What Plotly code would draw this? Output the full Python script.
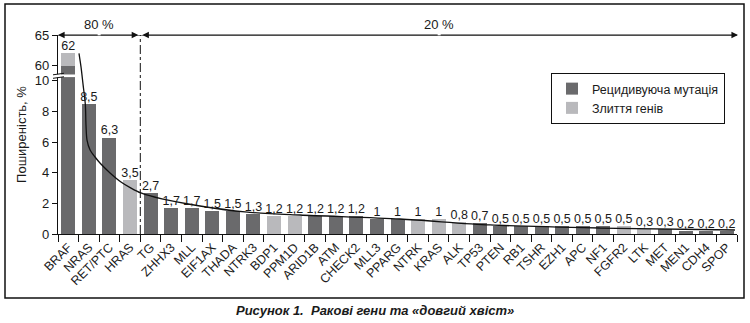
import plotly.graph_objects as go

# ---------------- data ----------------
genes = ["BRAF", "NRAS", "RET/PTC", "HRAS", "TG", "ZHHX3", "MLL", "EIF1AX", "THADA", "NTRK3",
         "BDP1", "PPM1D", "ARID1B", "ATM", "CHECK2", "MLL3", "PPARG", "NTRK", "KRAS", "ALK",
         "TP53", "PTEN", "RB1", "TSHR", "EZH1", "APC", "NF1", "FGFR2", "LTK", "MET",
         "MEN1", "CDH4", "SPOP"]
# recurrent mutation part / gene fusion part (%)
mutation = [59.7, 8.5, 6.3, 0, 2.7, 1.7, 1.7, 1.5, 1.5, 1.3,
            0, 0, 1.2, 1.2, 1.2, 1, 1, 0, 0, 0,
            0.7, 0.5, 0.5, 0.5, 0.5, 0.5, 0.5, 0, 0, 0.3,
            0.2, 0.2, 0.2]
fusion = [2.3, 0, 0, 3.5, 0, 0, 0, 0, 0, 0,
          1.2, 1.2, 0, 0, 0, 0, 0, 1, 1, 0.8,
          0, 0, 0, 0, 0, 0, 0, 0.5, 0.3, 0,
          0, 0, 0]
totals = [62, 8.5, 6.3, 3.5, 2.7, 1.7, 1.7, 1.5, 1.5, 1.3,
          1.2, 1.2, 1.2, 1.2, 1.2, 1, 1, 1, 1, 0.8,
          0.7, 0.5, 0.5, 0.5, 0.5, 0.5, 0.5, 0.5, 0.3, 0.3,
          0.2, 0.2, 0.2]
# "long tail" curve (category position, %)
tail_x = [0.52, 0.62, 0.72, 0.83, 0.86, 0.91, 1.06, 1.30, 1.54, 2.03, 2.56, 3.05, 3.53,
          4.55, 6.40, 8.59, 11.26, 16.12, 20.5, 25.84, 32.4]
tail_y = [62, 55, 9.74, 8.43, 7.12, 6.14, 5.49, 5.03, 4.64, 3.99, 3.40, 3.0, 2.68,
          2.29, 1.83, 1.44, 1.24, 0.98, 0.59, 0.39, 0.26]
ytick_vals = [0, 2, 4, 6, 8, 10, 60, 65]
group_labels = ["80 %", "20 %"]
legend_names = ["Рецидивуюча мутація", "Злиття генів"]
y_title = "Поширеність, %"
caption = "Рисунок 1.  Ракові гени та «довгий хвіст»"

# ---------------- broken-axis mapping ----------------
def ymap(v):
    if v <= 10:
        return v
    if v <= 60:
        return 10 + (v - 10) / 50.0
    return 11 + (v - 60) * 0.4

FONT = "Liberation Sans, Arial, Helvetica, sans-serif"
DARK = "#6a6a6c"
LIGHT = "#b9b9bc"
TXT = "#1a1a1a"

x = list(range(len(genes)))
mut_m = [ymap(v) for v in mutation]
fus_m = [ymap(m + f) - ymap(m) if f > 0 else 0 for m, f in zip(mutation, fusion)]

def fmt(v):
    return ("%g" % v).replace(".", ",")

fig = go.Figure()
fig.add_trace(go.Bar(x=x, y=mut_m, marker_color=DARK, width=0.68, name=legend_names[0],
                     marker_line_width=0))
fig.add_trace(go.Bar(x=x, y=fus_m, marker_color=LIGHT, width=0.68, name=legend_names[1],
                     marker_line_width=0))
fig.add_trace(go.Scatter(x=tail_x, y=[ymap(v) for v in tail_y], mode="lines",
                         line=dict(color="#111111", width=1.3, shape="spline", smoothing=0.8),
                         showlegend=False, hoverinfo="skip"))
fig.add_trace(go.Scatter(x=x, y=[ymap(v) for v in totals], mode="text",
                         text=[fmt(v) for v in totals], textposition="top center",
                         textfont=dict(family=FONT, size=12.5, color=TXT),
                         showlegend=False, hoverinfo="skip", cliponaxis=False))

# pixel geometry helpers
L, R, T, B = 58, 737, 35, 234
def px_x(p):
    return (p - L) / (R - L)
def px_y(p):
    return (B - p) / (B - T)

ymax = ymap(65)
shapes = []
# dash-dot separator
shapes.append(dict(type="line", xref="x", yref="y", x0=3.5, x1=3.5, y0=0, y1=ymax,
                   line=dict(color="#111111", width=1, dash="dashdot")))
# top horizontal line
shapes.append(dict(type="line", xref="x", yref="y", x0=-0.5, x1=32.7, y0=ymax, y1=ymax,
                   line=dict(color="#111111", width=1.2)))
# axis break: white gap across axis and BRAF bar
gap0, gap1 = 10.25, 10.42
shapes.append(dict(type="rect", xref="x", yref="y", x0=-0.45, x1=0.45, y0=gap0, y1=gap1,
                   fillcolor="white", line_width=0, layer="above"))
shapes.append(dict(type="rect", xref="paper", yref="y", x0=px_x(56.5), x1=px_x(59.5),
                   y0=gap0 - 0.02, y1=gap1 + 0.02, fillcolor="white", line_width=0, layer="above"))
for yy in (gap0 - 0.03, gap1 + 0.03):
    shapes.append(dict(type="line", xref="paper", yref="y", x0=px_x(53), x1=px_x(64),
                       y0=yy - 0.05, y1=yy + 0.05, line=dict(color="#111111", width=1),
                       layer="above"))
# outer frame
shapes.append(dict(type="rect", xref="paper", yref="paper", x0=px_x(5), x1=px_x(744),
                   y0=px_y(298), y1=px_y(4), line=dict(color="#111111", width=1.5),
                   fillcolor="rgba(0,0,0,0)", layer="below"))

annotations = []
arr = dict(showarrow=True, arrowhead=2, arrowsize=1.1, arrowwidth=1.2, arrowcolor="#111111",
           axref="x", ayref="y", xref="x", yref="y", text="")
for (a, b) in [(-0.5, 3.5), (3.5, 32.55)]:
    mid = (a + b) / 2
    annotations.append(dict(arr, x=a, y=ymax, ax=mid, ay=ymax, standoff=2 if a == 3.5 else 0))
    annotations.append(dict(arr, x=b, y=ymax, ax=mid, ay=ymax, standoff=2 if b == 3.5 else 0))
annotations.append(dict(text=group_labels[0], x=1.5, y=px_y(24), xref="x", yref="paper",
                        yanchor="middle", showarrow=False,
                        font=dict(family=FONT, size=13, color=TXT)))
annotations.append(dict(text=group_labels[1], x=18.0, y=px_y(24), xref="x", yref="paper",
                        yanchor="middle", showarrow=False,
                        font=dict(family=FONT, size=13, color=TXT)))
annotations.append(dict(text="<b><i>" + caption + "</i></b>", x=px_x(375), y=px_y(310),
                        xref="paper", yref="paper", yanchor="middle", showarrow=False,
                        font=dict(family=FONT, size=13, color=TXT)))

fig.update_layout(
    width=750, height=323,
    margin=dict(l=L, r=750 - R, t=T, b=323 - B),
    paper_bgcolor="white", plot_bgcolor="white",
    barmode="stack",
    font=dict(family=FONT, size=12.5, color=TXT),
    showlegend=True,
    legend=dict(x=px_x(551), y=px_y(73), xanchor="left", yanchor="top",
                bordercolor="#111111", borderwidth=1, bgcolor="white",
                font=dict(family=FONT, size=12.5, color=TXT),
                itemwidth=30, tracegroupgap=0, traceorder="normal"),
    shapes=shapes, annotations=annotations,
    xaxis=dict(range=[-0.5, 32.5], tickmode="array", tickvals=x, ticktext=genes,
               tickangle=-45, ticks="", showgrid=False, zeroline=False,
               showline=True, linecolor="#111111", linewidth=1.2,
               tickfont=dict(family=FONT, size=12.5, color=TXT),
               minor=dict(tickmode="linear", tick0=-0.5, dtick=1, ticks="outside",
                          ticklen=7, tickcolor="#111111", tickwidth=1.2, showgrid=False)),
    yaxis=dict(range=[0, ymax], tickmode="array", tickvals=[ymap(v) for v in ytick_vals],
               ticktext=[str(v) for v in ytick_vals], ticks="outside", ticklen=5,
               tickcolor="#111111", tickwidth=1.2, showgrid=False, zeroline=False,
               showline=True, linecolor="#111111", linewidth=1.2,
               tickfont=dict(family=FONT, size=13, color=TXT),
               title=dict(text=y_title, font=dict(family=FONT, size=13, color=TXT), standoff=5)),
)

fig.write_html("out.html")
